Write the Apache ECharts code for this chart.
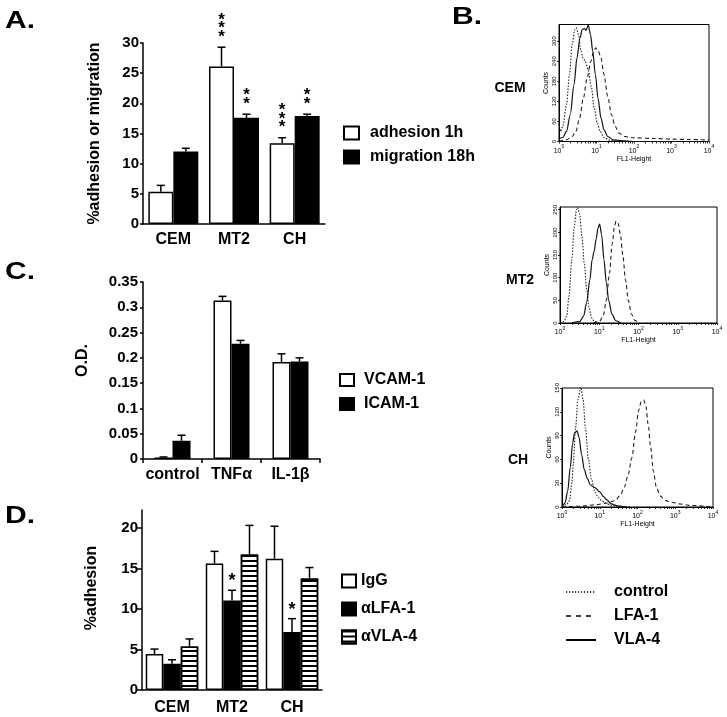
<!DOCTYPE html>
<html><head><meta charset="utf-8">
<script src="https://cdn.jsdelivr.net/npm/echarts@6/dist/echarts.min.js"></script>
<style>html,body{margin:0;padding:0;background:#fff}#c{width:727px;height:717px}</style>
</head><body><div id="c"></div>
<script>
// ---------- Panel A ----------
var catsA = ['CEM', 'MT2', 'CH'];
var adhesion = [5.35, 26.1, 13.4];
var adhesionSem = [1.05, 3.2, 0.9];
var adhesionStars = ['', '***', '***'];
var migration = [12.0, 17.6, 17.9];
var migrationSem = [0.55, 0.6, 0.3];
var migrationStars = ['', '**', '**'];
var ticksA = [0, 5, 10, 15, 20, 25, 30];
// ---------- Panel C ----------
var catsC = ['control', 'TNFα', 'IL-1β'];
var vcam = [0.003, 0.3136, 0.192];
var vcamSem = [0.001, 0.008, 0.016];
var icam = [0.036, 0.228, 0.193];
var icamSem = [0.011, 0.0065, 0.007];
var ticksC = [0, 0.05, 0.1, 0.15, 0.2, 0.25, 0.3, 0.35];
// ---------- Panel D ----------
var catsD = ['CEM', 'MT2', 'CH'];
var igg = [4.43, 15.6, 16.2];
var iggSem = [0.62, 1.5, 4.0];
var lfa = [3.23, 11.05, 7.16];
var lfaSem = [0.5, 1.25, 1.64];
var lfaStars = ['', '*', '*'];
var vla = [5.38, 16.7, 13.75];
var vlaSem = [0.92, 3.6, 1.35];
var ticksD = [0, 5, 10, 15, 20];
// ---------- Panel B (x = log10 FL1-Height, y = counts) ----------
var decadeTicks = [0, 1, 2, 3, 4];
var cemTicks = [0, 60, 120, 180, 240, 300];
var mt2Ticks = [0, 50, 100, 150, 200, 250];
var chTicks = [0, 30, 60, 90, 120, 150];
var cemControl = [[0,55],[0.04,30],[0.1,45],[0.2,110],[0.28,200],[0.35,290],[0.42,335],[0.46,340],[0.52,320],[0.58,275],[0.64,250],[0.7,240],[0.78,215],[0.86,165],[0.94,100],[1.02,55],[1.1,30],[1.2,12],[1.35,4],[1.6,1],[2,0],[4,0]];
var cemLfa = [[0,0],[0.2,5],[0.35,15],[0.45,30],[0.55,70],[0.65,130],[0.75,190],[0.85,240],[0.92,268],[0.98,280],[1.05,270],[1.12,250],[1.2,200],[1.3,135],[1.4,80],[1.5,45],[1.6,25],[1.75,15],[2,11],[2.5,9],[3,7],[3.5,6],[4,4]];
var cemVla = [[0,8],[0.1,12],[0.2,30],[0.3,80],[0.4,170],[0.48,250],[0.56,310],[0.62,335],[0.68,338],[0.72,332],[0.78,348],[0.84,320],[0.9,270],[0.97,200],[1.04,130],[1.12,70],[1.2,35],[1.3,15],[1.45,5],[1.7,2],[2,0]];
var mt2Control = [[0,0],[0.1,3],[0.17,15],[0.23,60],[0.3,140],[0.36,210],[0.42,250],[0.45,255],[0.5,240],[0.56,190],[0.62,130],[0.68,75],[0.74,35],[0.8,12],[0.88,3],[1,0]];
var mt2Lfa = [[0.85,0],[1.0,3],[1.1,15],[1.18,50],[1.26,110],[1.33,175],[1.39,215],[1.43,225],[1.48,220],[1.54,195],[1.6,150],[1.67,95],[1.74,50],[1.82,20],[1.9,6],[2.0,0]];
var mt2Vla = [[0.3,0],[0.5,3],[0.6,15],[0.68,45],[0.76,95],[0.82,140],[0.87,158],[0.92,185],[0.97,210],[1.01,218],[1.06,195],[1.12,140],[1.18,90],[1.24,50],[1.32,20],[1.42,5],[1.55,0]];
var chControl = [[0,0],[0.12,3],[0.2,8],[0.26,30],[0.3,55],[0.36,100],[0.42,135],[0.5,151],[0.56,135],[0.62,100],[0.7,60],[0.78,35],[0.88,18],[0.96,12],[1.05,8],[1.15,5],[1.3,2],[1.5,1],[1.8,0]];
var chLfa = [[0,0],[0.5,1],[0.9,3],[1.2,5],[1.4,8],[1.55,15],[1.65,25],[1.75,40],[1.85,62],[1.95,95],[2.03,122],[2.1,133],[2.16,135],[2.22,128],[2.28,105],[2.35,75],[2.42,45],[2.5,25],[2.6,14],[2.75,8],[2.9,6],[3.1,4],[3.4,2],[4,0]];
var chVla = [[0,0],[0.08,5],[0.15,20],[0.22,50],[0.28,80],[0.33,93],[0.4,96],[0.45,88],[0.52,66],[0.59,47],[0.67,36],[0.75,28],[0.88,24],[1.0,19],[1.1,13],[1.19,9],[1.3,4],[1.5,1],[1.7,0]];

var FONT = 'Liberation Sans';
var BLACK = '#000';

function barY(gi, max, ticks, margin, tickLen, name, nameGap, padLeft) {
  return {
    type: 'value', gridIndex: gi, min: 0, max: max,
    name: name, nameLocation: 'middle', nameGap: nameGap,
    nameTextStyle: {color: BLACK, fontSize: 16, fontWeight: 'bold', fontFamily: FONT, padding: [0, 0, 0, padLeft]},
    axisLine: {show: true, lineStyle: {color: BLACK, width: 1.5}},
    axisTick: {show: true, length: tickLen, customValues: ticks, lineStyle: {color: BLACK, width: 1.5}},
    axisLabel: {color: BLACK, fontSize: 15, fontWeight: 'bold', fontFamily: FONT, margin: margin, customValues: ticks},
    splitLine: {show: false}
  };
}
function barX(gi, cats, margin, showTick) {
  return {
    type: 'category', gridIndex: gi, data: cats,
    axisLine: {show: true, lineStyle: {color: BLACK, width: 1.5}},
    axisTick: {show: showTick, length: 4, alignWithLabel: false, lineStyle: {color: BLACK, width: 1.5}},
    axisLabel: {color: BLACK, fontSize: 16, fontWeight: 'bold', fontFamily: FONT, margin: margin, interval: 0},
    splitLine: {show: false}
  };
}
function errSeries(gi, vals, sems, offset, stars, cap, starGap, starSize, starPitch) {
  return {
    type: 'custom', xAxisIndex: gi, yAxisIndex: gi, z: 5, silent: true,
    encode: {x: 0, y: 1},
    data: vals.map(function (v, i) { return [i, v, sems[i]]; }),
    renderItem: function (params, api) {
      var i = api.value(0), v = api.value(1), e = api.value(2);
      var b = api.coord([i, v]);
      var t = api.coord([i, v + e]);
      var x = b[0] + offset;
      var ch = [
        {type: 'line', shape: {x1: x, y1: b[1], x2: x, y2: t[1]}, style: {stroke: BLACK, lineWidth: 1.5}},
        {type: 'line', shape: {x1: x - cap, y1: t[1], x2: x + cap, y2: t[1]}, style: {stroke: BLACK, lineWidth: 1.5}}
      ];
      if (stars && stars[i]) {
        for (var k = 0; k < stars[i].length; k++) {
          ch.push({type: 'text', x: x, y: t[1] - starGap - k * starPitch,
            style: {text: '*', align: 'center', verticalAlign: 'middle', font: 'bold ' + starSize + 'px ' + FONT, fill: BLACK}});
        }
      }
      return {type: 'group', children: ch};
    }
  };
}
function histX(gi) {
  var pos = [];
  for (var k = 0; k < 4; k++) for (var m = 1; m < 10; m++) pos.push(k + Math.log10(m));
  pos.push(4);
  return {
    type: 'value', gridIndex: gi, min: 0, max: 4, interval: 1,
    name: 'FL1-Height', nameLocation: 'middle', nameGap: 14,
    nameTextStyle: {color: BLACK, fontSize: 7, fontFamily: FONT},
    axisLine: {show: true, lineStyle: {color: BLACK, width: 1}},
    axisTick: {show: true, length: 2, customValues: pos, lineStyle: {color: BLACK, width: 0.8}},
    axisLabel: {color: BLACK, margin: 3, customValues: decadeTicks,
      formatter: function (v) { return '{b|10}{s|' + v + '}'; },
      rich: {b: {fontSize: 7, fontFamily: FONT, lineHeight: 10, verticalAlign: 'bottom'},
             s: {fontSize: 5, fontFamily: FONT, lineHeight: 10, verticalAlign: 'top'}}},
    splitLine: {show: false}
  };
}
function histY(gi, max, ticks) {
  return {
    type: 'value', gridIndex: gi, min: 0, max: max,
    name: 'Counts', nameLocation: 'middle', nameGap: 9,
    nameTextStyle: {color: BLACK, fontSize: 7, fontFamily: FONT},
    axisLine: {show: true, lineStyle: {color: BLACK, width: 1}},
    axisTick: {show: true, length: 2, customValues: ticks, lineStyle: {color: BLACK, width: 0.8}},
    axisLabel: {color: BLACK, fontSize: 6, fontFamily: FONT, rotate: 90, margin: 2, customValues: ticks},
    splitLine: {show: false}
  };
}
var lineStyles = {
  control: {color: '#222', width: 1.1, type: [1.5, 1.5]},
  lfa: {color: '#222', width: 1.1, type: [4, 3]},
  vla: {color: '#111', width: 1.2, type: 'solid'}
};
function histSeries(gi, name, data, st) {
  return {type: 'line', name: name, xAxisIndex: gi, yAxisIndex: gi, data: data,
    symbol: 'none', showSymbol: false, smooth: 0.3, smoothMonotone: 'x',
    lineStyle: st, itemStyle: {color: st.color}, silent: true};
}

var whiteStyle = {color: '#fff', borderColor: BLACK, borderWidth: 1.5};
var blackStyle = {color: BLACK, borderColor: BLACK, borderWidth: 1.5};
var stripeStyle = {color: '#fff', borderColor: BLACK, borderWidth: 1.5,
  decal: {symbol: 'rect', symbolSize: 1, dashArrayX: [1, 0], dashArrayY: [2, 2.4], color: BLACK, rotation: 0}};

var legText = {color: BLACK, fontSize: 16, fontWeight: 'bold', fontFamily: FONT};
var hiddenSym = {color: 'rgba(0,0,0,0)', borderWidth: 0, opacity: 0};

var option = {
  animation: false,
  backgroundColor: '#fff',
  textStyle: {fontFamily: FONT},
  grid: [
    {left: 143, top: 43, width: 182, height: 181},
    {left: 143, top: 282, width: 177, height: 177},
    {left: 142, top: 510, width: 180, height: 180},
    {left: 559, top: 24.5, width: 150, height: 117, show: true, borderColor: BLACK, borderWidth: 1},
    {left: 560, top: 207, width: 157, height: 116, show: true, borderColor: BLACK, borderWidth: 1},
    {left: 562, top: 388, width: 151, height: 119, show: true, borderColor: BLACK, borderWidth: 1}
  ],
  xAxis: [barX(0, catsA, 8, false), barX(1, catsC, 8, true), barX(2, catsD, 10, false), histX(3), histX(4), histX(5)],
  yAxis: [
    barY(0, 30, ticksA, 4, 3, '%adhesion or migration', 40, 0),
    barY(1, 0.35, ticksC, 5, 3, 'O.D.', 52, 20),
    barY(2, 22.2, ticksD, 4, 5, '%adhesion', 42, 24),
    histY(3, 350, cemTicks), histY(4, 256, mt2Ticks), histY(5, 150, chTicks)
  ],
  legend: [
    {left: 343, top: 125, orient: 'vertical', padding: 0, itemWidth: 15, itemHeight: 13, itemGap: 8, icon: 'rect',
      data: ['adhesion 1h', 'migration 18h'], textStyle: Object.assign({padding: [0, 0, 0, 6]}, legText), selectedMode: false},
    {left: 339, top: 372, orient: 'vertical', padding: 0, itemWidth: 14, itemHeight: 12, itemGap: 8, icon: 'rect',
      data: ['VCAM-1', 'ICAM-1'], textStyle: Object.assign({padding: [0, 0, 0, 5]}, legText), selectedMode: false},
    {left: 341, top: 573, orient: 'vertical', padding: 0, itemWidth: 14, itemHeight: 13, itemGap: 12, icon: 'rect',
      data: ['IgG', 'αLFA-1', 'αVLA-4'], textStyle: Object.assign({padding: [0, 0, 0, 0]}, legText), selectedMode: false},
    {left: 565, top: 584, orient: 'vertical', padding: 0, itemWidth: 30, itemHeight: 14, itemGap: 8,
      itemStyle: hiddenSym,
      data: [
        {name: 'control', itemStyle: hiddenSym, lineStyle: {type: [1.2, 1.8], width: 1.5, color: BLACK}},
        {name: 'LFA-1', itemStyle: hiddenSym, lineStyle: {type: [5, 5], width: 1.5, color: BLACK}},
        {name: 'VLA-4', itemStyle: hiddenSym, lineStyle: {type: 'solid', width: 2, color: BLACK}}
      ],
      textStyle: Object.assign({padding: [0, 0, 0, 13]}, legText), selectedMode: false}
  ],
  series: [
    {type: 'bar', name: 'adhesion 1h', xAxisIndex: 0, yAxisIndex: 0, data: adhesion, barWidth: 25, barGap: '0%', itemStyle: whiteStyle, silent: true},
    {type: 'bar', name: 'migration 18h', xAxisIndex: 0, yAxisIndex: 0, data: migration, barWidth: 25, barGap: '0%', itemStyle: blackStyle, silent: true},
    errSeries(0, adhesion, adhesionSem, -12.5, adhesionStars, 4, 10, 17, 8.5),
    errSeries(0, migration, migrationSem, 12.5, migrationStars, 4, 10, 17, 8.5),

    {type: 'bar', name: 'VCAM-1', xAxisIndex: 1, yAxisIndex: 1, data: vcam, barWidth: 18, barGap: '0%', itemStyle: whiteStyle, silent: true},
    {type: 'bar', name: 'ICAM-1', xAxisIndex: 1, yAxisIndex: 1, data: icam, barWidth: 18, barGap: '0%', itemStyle: blackStyle, silent: true},
    errSeries(1, vcam, vcamSem, -9, null, 4),
    errSeries(1, icam, icamSem, 9, null, 4),

    {type: 'bar', name: 'IgG', xAxisIndex: 2, yAxisIndex: 2, data: igg, barWidth: 17.5, barGap: '0%', itemStyle: whiteStyle, silent: true},
    {type: 'bar', name: 'αLFA-1', xAxisIndex: 2, yAxisIndex: 2, data: lfa, barWidth: 17.5, barGap: '0%', itemStyle: blackStyle, silent: true},
    {type: 'bar', name: 'αVLA-4', xAxisIndex: 2, yAxisIndex: 2, data: vla, barWidth: 17.5, barGap: '0%', itemStyle: stripeStyle, silent: true},
    errSeries(2, igg, iggSem, -17.5, null, 4),
    errSeries(2, lfa, lfaSem, 0, lfaStars, 4, 9, 18, 9),
    errSeries(2, vla, vlaSem, 17.5, null, 4),

    histSeries(3, 'control', cemControl, lineStyles.control),
    histSeries(3, 'LFA-1', cemLfa, lineStyles.lfa),
    histSeries(3, 'VLA-4', cemVla, lineStyles.vla),
    histSeries(4, 'control', mt2Control, lineStyles.control),
    histSeries(4, 'LFA-1', mt2Lfa, lineStyles.lfa),
    histSeries(4, 'VLA-4', mt2Vla, lineStyles.vla),
    histSeries(5, 'control', chControl, lineStyles.control),
    histSeries(5, 'LFA-1', chLfa, lineStyles.lfa),
    histSeries(5, 'VLA-4', chVla, lineStyles.vla)
  ],
  graphic: [
    {type: 'text', x: 5, y: 21.5, scaleX: 1.25, style: {text: 'A.', font: 'bold 24px ' + FONT, fill: BLACK, verticalAlign: 'middle', align: 'left'}},
    {type: 'text', x: 452, y: 17, scaleX: 1.25, style: {text: 'B.', font: 'bold 24px ' + FONT, fill: BLACK, verticalAlign: 'middle', align: 'left'}},
    {type: 'text', x: 5, y: 272.5, scaleX: 1.25, style: {text: 'C.', font: 'bold 24px ' + FONT, fill: BLACK, verticalAlign: 'middle', align: 'left'}},
    {type: 'text', x: 5, y: 516, scaleX: 1.25, style: {text: 'D.', font: 'bold 24px ' + FONT, fill: BLACK, verticalAlign: 'middle', align: 'left'}},
    {type: 'text', x: 510, y: 88, style: {text: 'CEM', font: 'bold 14px "Liberation Sans Narrow", ' + FONT, fill: BLACK, verticalAlign: 'middle', align: 'center'}},
    {type: 'text', x: 520, y: 280, style: {text: 'MT2', font: 'bold 14px "Liberation Sans Narrow", ' + FONT, fill: BLACK, verticalAlign: 'middle', align: 'center'}},
    {type: 'text', x: 518, y: 460, style: {text: 'CH', font: 'bold 14px "Liberation Sans Narrow", ' + FONT, fill: BLACK, verticalAlign: 'middle', align: 'center'}}
  ]
};
var chart = echarts.init(document.getElementById('c'), null, {renderer: 'canvas', width: 727, height: 717});
chart.setOption(option);
</script>
</body></html>
